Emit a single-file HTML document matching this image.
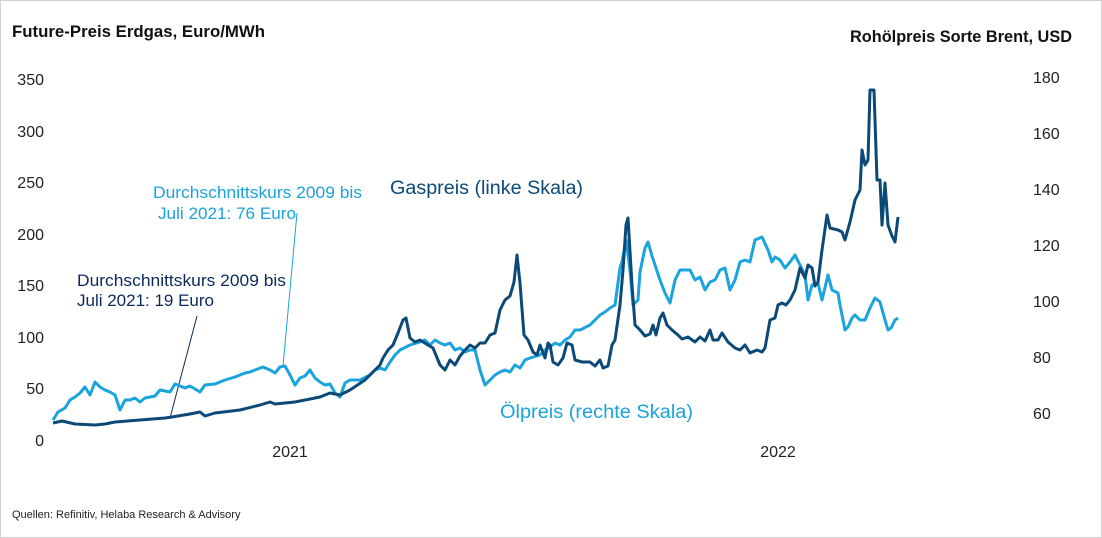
<!DOCTYPE html>
<html><head><meta charset="utf-8"><style>
body{margin:0;background:#fff;}
svg{display:block;font-family:"Liberation Sans",sans-serif;}
</style></head><body>
<svg width="1102" height="538" viewBox="0 0 1102 538">
<rect x="0.5" y="0.5" width="1101" height="537" fill="#fff" stroke="#d0d0d0"/>
<text x="12" y="37" font-size="16.5" font-weight="bold" fill="#111" textLength="253" lengthAdjust="spacingAndGlyphs">Future-Preis Erdgas, Euro/MWh</text>
<text x="850" y="42" font-size="16.5" font-weight="bold" fill="#111" textLength="222" lengthAdjust="spacingAndGlyphs">Rohölpreis Sorte Brent, USD</text>
<g font-size="16" fill="#222" text-anchor="end">
<text x="44" y="446">0</text><text x="44" y="394">50</text><text x="44" y="343">100</text><text x="44" y="291">150</text><text x="44" y="240">200</text><text x="44" y="188">250</text><text x="44" y="137">300</text><text x="44" y="85">350</text>
</g>
<g font-size="16" fill="#222" text-anchor="start">
<text x="1033" y="419">60</text><text x="1033" y="363">80</text><text x="1033" y="307">100</text><text x="1033" y="251">120</text><text x="1033" y="195">140</text><text x="1033" y="139">160</text><text x="1033" y="83">180</text>
</g>
<text x="290" y="457" font-size="16" fill="#222" text-anchor="middle">2021</text>
<text x="778" y="457" font-size="16" fill="#222" text-anchor="middle">2022</text>
<text x="12" y="518" font-size="11" fill="#222">Quellen: Refinitiv, Helaba Research &amp; Advisory</text>
<text x="153" y="198" font-size="17" fill="#1aa3dc" textLength="209" lengthAdjust="spacingAndGlyphs">Durchschnittskurs 2009 bis</text>
<text x="158" y="219" font-size="17" fill="#1aa3dc" textLength="138" lengthAdjust="spacingAndGlyphs">Juli 2021: 76 Euro</text>
<text x="77" y="286" font-size="17" fill="#0b2a5a" textLength="209" lengthAdjust="spacingAndGlyphs">Durchschnittskurs 2009 bis</text>
<text x="77" y="306" font-size="17" fill="#0b2a5a" textLength="137" lengthAdjust="spacingAndGlyphs">Juli 2021: 19 Euro</text>
<text x="390" y="194" font-size="19" fill="#0b4a78" textLength="193" lengthAdjust="spacingAndGlyphs">Gaspreis (linke Skala)</text>
<text x="500" y="418" font-size="19" fill="#1aa3dc" textLength="193" lengthAdjust="spacingAndGlyphs">Ölpreis (rechte Skala)</text>
<line x1="297" y1="213" x2="283" y2="366" stroke="#1aa3dc" stroke-width="1"/>
<line x1="197" y1="316" x2="170" y2="418" stroke="#0b2a5a" stroke-width="1"/>
<polyline fill="none" stroke="#1aa3dc" stroke-width="3" stroke-linejoin="round" points="53,420 58,412 65,408 70,400 75,397 80,393 85,387 90,395 95,382 100,387 105,390 110,392 115,395 120,410 125,400 130,400 135,398 140,402 145,398 155,396 160,390 170,392 175,384 180,386 185,388 190,386 200,392 205,385 215,384 225,380 235,377 245,373 250,372 255,370 263,367 270,370 275,373 280,367 285,366 290,375 295,385 300,378 305,376 310,370 315,378 320,382 325,385 330,384 335,393 340,397 345,383 350,380 360,380 370,375 375,370 380,368 385,370 390,362 395,355 400,350 410,345 420,342 425,340 430,345 435,340 440,343 445,345 450,343 455,350 460,348 465,352 470,350 475,350 480,370 485,385 490,380 495,375 500,372 505,370 510,372 515,365 520,368 525,360 530,358 540,355 545,350 550,347 555,343 560,345 565,340 570,337 575,330 580,330 590,325 595,320 600,315 605,312 610,308 615,305 620,268 622,262 626,240 630,270 633,305 638,300 640,272 645,248 648,242 652,256 655,265 660,280 665,293 670,303 675,280 680,270 690,270 695,280 700,277 705,290 710,282 715,280 720,270 725,268 730,290 735,280 740,262 745,260 750,262 755,240 762,237 768,250 772,262 775,257 780,260 785,268 790,262 795,255 800,265 805,275 808,300 812,285 818,283 822,300 828,275 832,290 838,293 840,305 845,330 848,327 852,318 855,315 860,320 865,320 870,308 875,298 880,302 885,320 888,330 891,328 895,320 898,318"/>
<polyline fill="none" stroke="#0b4a78" stroke-width="3" stroke-linejoin="round" points="53,423 62,421 75,424 95,425 105,424 115,422 140,420 165,418 172,417 190,414 200,412 205,416 215,413 240,410 260,405 270,402 275,404 295,402 305,400 320,397 330,393 340,395 350,390 365,380 375,370 380,365 383,358 388,350 393,345 398,333 403,320 406,318 410,338 415,342 420,340 428,345 433,348 440,365 445,370 450,360 455,365 460,356 465,350 470,345 475,348 480,343 485,343 490,335 495,333 500,310 505,300 510,296 514,282 517,255 520,283 524,335 528,340 533,352 537,355 540,345 545,358 548,343 550,345 553,362 558,365 563,358 567,343 572,345 575,360 582,362 590,362 595,366 600,360 603,368 608,366 612,345 615,340 620,305 623,270 626,225 628,218 632,285 635,325 640,330 645,336 650,334 653,325 656,335 660,318 663,313 667,325 672,330 678,335 682,339 688,337 695,342 700,337 705,341 710,330 713,340 718,340 722,333 728,342 735,348 740,350 745,345 750,353 757,350 762,352 765,348 770,320 775,318 778,305 782,303 786,305 790,300 795,290 800,268 805,278 808,265 812,268 815,286 818,282 822,250 827,215 830,228 838,230 842,232 845,240 850,222 855,200 860,190 862,150 865,165 868,160 870,90 874,90 877,180 880,180 882,225 885,183 888,225 892,236 895,242 898,217"/>
</svg>
</body></html>
